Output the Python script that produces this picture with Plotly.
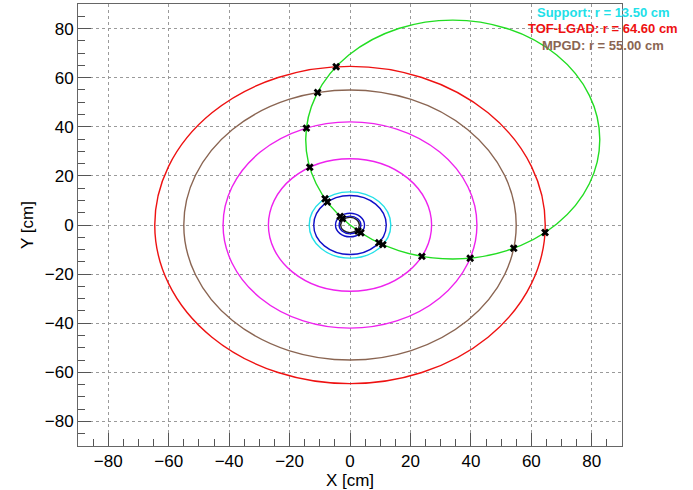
import plotly.graph_objects as go

# Detector layers (circles centred at the origin)
layer_names = ["Beam pipe", "SVT L0", "SVT L1", "SVT L2", "Support", "SVT L3", "SVT L4", "MPGD", "TOF-LGAD"]
layer_radii = [3.1, 3.6, 4.8, 12.0, 13.5, 27.0, 42.0, 55.0, 64.6]
layer_colors = ["#222222", "#1010c8", "#1010c8", "#1010c8", "#22e0e8", "#ee22ee", "#ee22ee", "#8a6552", "#ee1111"]

# Track (circle through the origin)
track_cx = 34.0
track_cy = 34.8
track_r = 48.65
track_color = "#22dd22"

# Hit points (x markers)
hit_x = [-4.58, -10.72, -14.43, -13.31, -8.25, -7.49, -3.26, -2.48, 2.67, 3.60, 9.55, 10.87, 23.79, 39.77, 54.18, 64.54]
hit_y = [64.44, 53.95, 39.45, 23.49, 10.68, 9.38, 3.52, 2.61, -2.42, -3.18, -7.26, -8.00, -12.77, -13.51, -9.47, -3.08]

# Legend text lines
legend_text = ["Support: r = 13.50 cm", "TOF-LGAD: r = 64.60 cm", "MPGD: r = 55.00 cm"]
legend_colors = ["#22e0e8", "#ee1111", "#8a6552"]

fig = go.Figure()

shapes = []
for r, c in zip(layer_radii, layer_colors):
    shapes.append(dict(type="circle", xref="x", yref="y", x0=-r, x1=r, y0=-r, y1=r,
                       line=dict(color=c, width=1.4), layer="between"))
shapes.append(dict(type="circle", xref="x", yref="y",
                   x0=track_cx - track_r, x1=track_cx + track_r,
                   y0=track_cy - track_r, y1=track_cy + track_r,
                   line=dict(color=track_color, width=1.4), layer="between"))

fig.add_trace(go.Scatter(x=hit_x, y=hit_y, mode="markers",
                         marker=dict(symbol="x", size=7, color="black", line=dict(width=0)),
                         showlegend=False, hoverinfo="skip"))

annotations = []
line_px = 16.2
y0_px = 12.7  # centre of first line, in px from top
for i, (t, c) in enumerate(zip(legend_text, legend_colors)):
    ypx = y0_px + i * line_px
    annotations.append(dict(text="<b>%s</b>" % t, xref="paper", yref="paper",
                            x=(603 - 78) / 544.0, y=1 - (ypx - 4) / 442.0,
                            xanchor="center", yanchor="middle", showarrow=False,
                            font=dict(family="Liberation Sans, Arial, sans-serif", size=13, color=c)))

axis_common = dict(
    range=[-90, 90], dtick=20, tick0=0,
    ticks="inside", ticklen=13, tickwidth=1, tickcolor="#555555",
    minor=dict(dtick=5, ticks="inside", ticklen=7, tickwidth=1, tickcolor="#555555", showgrid=False),
    showgrid=True, gridcolor="#9a9a9a", griddash="dot", gridwidth=1,
    zeroline=False, showline=True, linecolor="#666666", linewidth=1, mirror=True,
    tickfont=dict(family="Liberation Sans, Arial, sans-serif", size=17, color="black"),
)

tick_vals = [-80, -60, -40, -20, 0, 20, 40, 60, 80]
tick_text = ["\u221280", "\u221260", "\u221240", "\u221220", "0", "20", "40", "60", "80"]

fig.update_layout(
    width=693, height=490,
    margin=dict(l=78, r=71, t=4, b=44),
    paper_bgcolor="white", plot_bgcolor="white",
    shapes=shapes, annotations=annotations,
    xaxis=dict(**axis_common, tickvals=tick_vals, ticktext=tick_text,
               title=dict(text="X [cm]", font=dict(family="Liberation Sans, Arial, sans-serif", size=17, color="black"), standoff=0)),
    yaxis=dict(**axis_common, tickvals=tick_vals, ticktext=tick_text,
               title=dict(text="Y [cm]", font=dict(family="Liberation Sans, Arial, sans-serif", size=17, color="black"), standoff=6)),
    showlegend=False,
)

fig.write_html("out.html")
